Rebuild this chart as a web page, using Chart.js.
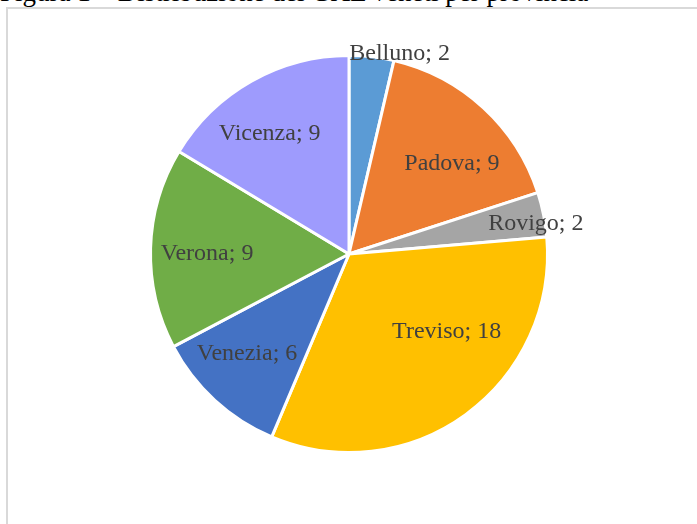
<!DOCTYPE html>
<html lang="it">
<head>
<meta charset="UTF-8">
<title>Distribuzione dei GAL veneti per provincia</title>
<style>
    body {
        margin: 0;
        width: 697px;
        height: 524px;
        overflow: hidden;
        background: #fff;
        position: relative;
        font-family: 'Liberation Serif', 'Times New Roman', serif;
    }
    #title {
        position: absolute;
        left: 0;
        top: -21px;
        font-size: 27px;
        line-height: 27px;
        white-space: nowrap;
        color: #000;
    }
    #frame {
        position: absolute;
        left: 6px;
        top: 7px;
        width: 720px;
        height: 540px;
        border: 2px solid #d9d9d9;
        box-sizing: border-box;
    }
    #chart-box {
        position: absolute;
        left: 0;
        top: 0;
        width: 697px;
        height: 524px;
    }
</style>
<script src="https://cdn.jsdelivr.net/npm/chart.js"></script>
</head>
<body>
<div id="title">Figura 1 – Distribuzione dei GAL veneti per provincia</div>
<div id="frame"></div>
<div id="chart-box"><canvas id="pie"></canvas></div>

<script>
const provinces = ['Belluno', 'Padova', 'Rovigo', 'Treviso', 'Venezia', 'Verona', 'Vicenza'];
const galCount = [2, 9, 2, 18, 6, 9, 9];
const sliceColors = ['#5b9bd5', '#ed7d31', '#a5a5a5', '#ffc000', '#4472c4', '#70ad47', '#9e9bfd'];

// label placement: radius fraction + small pixel nudge (Excel "best fit" look)
const labelRadius = [1.0, 0.7, 0.95, 0.7, 0.7, 0.7, 0.7];
const labelNudge = [[28, -3], [9, 12], [2, 7], [16, -35], [-8, -3], [-3, 4], [-11, 1]];

const sliceLabels = {
    id: 'sliceLabels',
    afterDatasetsDraw(chart) {
        const ctx = chart.ctx;
        const arcs = chart.getDatasetMeta(0).data;
        ctx.save();
        ctx.font = '24px "Liberation Serif", "Times New Roman", serif';
        ctx.fillStyle = '#404040';
        ctx.textAlign = 'center';
        ctx.textBaseline = 'middle';
        arcs.forEach((arc, i) => {
            const mid = (arc.startAngle + arc.endAngle) / 2;
            const r = arc.outerRadius * labelRadius[i];
            const x = arc.x + Math.cos(mid) * r + labelNudge[i][0];
            const y = arc.y + Math.sin(mid) * r + labelNudge[i][1];
            ctx.fillText(provinces[i] + '; ' + galCount[i], x, y);
        });
        ctx.restore();
    }
};

new Chart(document.getElementById('pie'), {
    type: 'pie',
    data: {
        labels: provinces,
        datasets: [{
            data: galCount,
            backgroundColor: sliceColors,
            borderColor: '#ffffff',
            borderWidth: 3
        }]
    },
    options: {
        responsive: true,
        maintainAspectRatio: false,
        animation: false,
        layout: { padding: { left: 149, top: 54, right: 148, bottom: 70 } },
        plugins: {
            legend: { display: false },
            tooltip: { enabled: false }
        }
    },
    plugins: [sliceLabels]
});
</script>
</body>
</html>
